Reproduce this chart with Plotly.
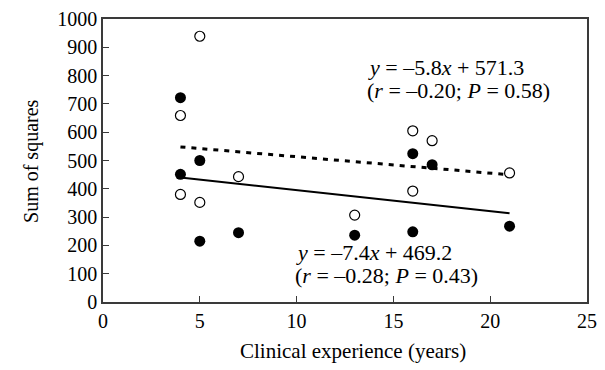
import plotly.graph_objects as go

# Data
filled_x = [4, 4, 5, 5, 7, 13, 16, 16, 17, 21]
filled_y = [722, 451, 500, 215, 245, 236, 248, 524, 485, 268]
open_x = [4, 4, 5, 5, 7, 13, 16, 16, 17, 21]
open_y = [659, 380, 939, 352, 443, 307, 392, 605, 570, 456]

# Regression lines (slope, intercept), drawn over x range
solid_fit = (-7.4, 469.2)
dashed_fit = (-5.8, 571.3)
fit_x = [4, 21]

x_ticks = [0, 5, 10, 15, 20, 25]
y_ticks = [0, 100, 200, 300, 400, 500, 600, 700, 800, 900, 1000]

dashed_label = ["<i>y</i> = –5.8<i>x</i> + 571.3", "(<i>r</i> = –0.20; <i>P</i> = 0.58)"]
solid_label = ["<i>y</i> = –7.4<i>x</i> + 469.2", "(<i>r</i> = –0.28; <i>P</i> = 0.43)"]
x_title = "Clinical experience (years)"
y_title = "Sum of squares"

FONT = "Liberation Serif"
AXC = "#3a3a3a"
L, T, W, H = 103, 14, 494, 288


def px(xp):
    return (xp - L) / W


def py(yp):
    return (T + H - yp) / H


fig = go.Figure()
fig.add_trace(go.Scatter(
    x=fit_x, y=[dashed_fit[0] * v + dashed_fit[1] for v in fit_x],
    mode="lines", line=dict(color="black", width=3, dash="5px,6px"),
    showlegend=False, hoverinfo="skip"))
fig.add_trace(go.Scatter(
    x=fit_x, y=[solid_fit[0] * v + solid_fit[1] for v in fit_x],
    mode="lines", line=dict(color="black", width=2),
    showlegend=False, hoverinfo="skip"))
fig.add_trace(go.Scatter(
    x=open_x, y=open_y, mode="markers",
    marker=dict(symbol="circle", size=10, color="white",
                line=dict(color="black", width=1.2)),
    showlegend=False))
fig.add_trace(go.Scatter(
    x=filled_x, y=filled_y, mode="markers",
    marker=dict(symbol="circle", size=11, color="black",
                line=dict(color="black", width=0)),
    showlegend=False))

for txt, xl, yc in [(dashed_label[0], 374, 63), (dashed_label[1], 373, 87),
                    (solid_label[0], 301, 252), (solid_label[1], 300, 275)]:
    fig.add_annotation(
        x=px(xl), y=py(yc), xref="paper", yref="paper",
        xanchor="left", yanchor="middle", align="left", showarrow=False,
        text=txt, font=dict(family=FONT, size=22, color="black"),
        xshift=-2, borderpad=0)

fig.add_annotation(
    x=px(358), y=py(352), xref="paper", yref="paper",
    xanchor="center", yanchor="middle", showarrow=False,
    text=x_title, font=dict(family=FONT, size=21, color="black"))
fig.add_annotation(
    x=px(30), y=py(158), xref="paper", yref="paper",
    xanchor="center", yanchor="middle", showarrow=False, textangle=-90,
    text=y_title, font=dict(family=FONT, size=20, color="black"))

fig.update_layout(
    width=605, height=370,
    margin=dict(l=L, r=605 - L - W, t=T, b=370 - T - H),
    paper_bgcolor="white", plot_bgcolor="white",
    font=dict(family=FONT, size=20, color="black"),
    xaxis=dict(range=[0, 25], tickvals=x_ticks, ticks="inside", ticklen=6,
               tickcolor=AXC, showline=True, linecolor=AXC, linewidth=1.5,
               mirror=True, showgrid=False, zeroline=False,
               tickfont=dict(family=FONT, size=20, color="black")),
    yaxis=dict(range=[0, 1000], tickvals=y_ticks, ticks="inside", ticklen=6,
               tickcolor=AXC, showline=True, linecolor=AXC, linewidth=1.5,
               mirror=True, showgrid=False, zeroline=False,
               ticksuffix="\u2009\u2009",
               tickfont=dict(family=FONT, size=20, color="black")),
)

fig.write_html("out.html")
